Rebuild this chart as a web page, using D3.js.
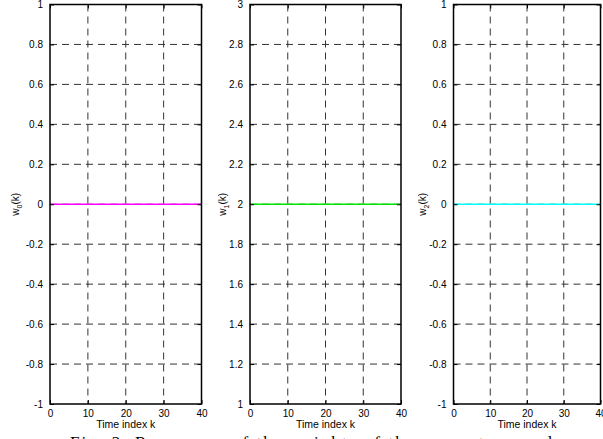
<!DOCTYPE html>
<html>
<head>
<meta charset="utf-8">
<script src="https://cdn.jsdelivr.net/npm/d3@7"></script>
<style>
	body { margin: 0; background: #fff; }
	svg { display: block; }
</style>
</head>
<body>
<script>
// time index k (0..40) and the weight responses
const timeIndex = [0, 1, 2, 3, 4, 5, 6, 7, 8, 9, 10, 11, 12, 13, 14, 15, 16, 17, 18, 19, 20,
	21, 22, 23, 24, 25, 26, 27, 28, 29, 30, 31, 32, 33, 34, 35, 36, 37, 38, 39, 40];
const w0 = [0, 0, 0, 0, 0, 0, 0, 0, 0, 0, 0, 0, 0, 0, 0, 0, 0, 0, 0, 0, 0,
	0, 0, 0, 0, 0, 0, 0, 0, 0, 0, 0, 0, 0, 0, 0, 0, 0, 0, 0, 0];
const w1 = [2, 2, 2, 2, 2, 2, 2, 2, 2, 2, 2, 2, 2, 2, 2, 2, 2, 2, 2, 2, 2,
	2, 2, 2, 2, 2, 2, 2, 2, 2, 2, 2, 2, 2, 2, 2, 2, 2, 2, 2, 2];
const w2 = [0, 0, 0, 0, 0, 0, 0, 0, 0, 0, 0, 0, 0, 0, 0, 0, 0, 0, 0, 0, 0,
	0, 0, 0, 0, 0, 0, 0, 0, 0, 0, 0, 0, 0, 0, 0, 0, 0, 0, 0, 0];

const xTicks = [0, 10, 20, 30, 40];
const yTicksA = [-1, -0.8, -0.6, -0.4, -0.2, 0, 0.2, 0.4, 0.6, 0.8, 1];
const yTicksB = [1, 1.2, 1.4, 1.6, 1.8, 2, 2.2, 2.4, 2.6, 2.8, 3];
const weightNames = ["0", "1", "2"];
const lineColors = ["#ff00ff", "#00e600", "#00ffff"];
const xLabel = "Time index k";
const caption = "Fig. 2.  Responses of the weights of the present example";

const width = 603, height = 439;
const plotTop = 4.5, plotBottom = 404;
const panels = [
	{ left: 50, right: 201.5, values: w0, yTicks: yTicksA, labelX: 15 },
	{ left: 250, right: 401, values: w1, yTicks: yTicksB, labelX: 222 },
	{ left: 453.5, right: 600.5, values: w2, yTicks: yTicksA, labelX: 422 }
];

const svg = d3.select("body")
	.append("svg")
	.attr("width", width)
	.attr("height", height)
	.style("font-family", "'Liberation Sans', Arial, sans-serif");

panels.forEach((p, i) => {
	const x = d3.scaleLinear().domain([0, 40]).range([p.left, p.right]);
	const y = d3.scaleLinear().domain(d3.extent(p.yTicks)).range([plotBottom, plotTop]);
	const g = svg.append("g");

	// dashed grid
	g.selectAll(".gx")
		.data(xTicks.slice(1, -1))
		.join("line")
		.attr("x1", d => x(d)).attr("x2", d => x(d))
		.attr("y1", plotTop).attr("y2", plotBottom)
		.attr("stroke", "#333").attr("stroke-width", 1)
		.attr("stroke-dasharray", "7,5");
	g.selectAll(".gy")
		.data(p.yTicks.slice(1, -1))
		.join("line")
		.attr("x1", p.left).attr("x2", p.right)
		.attr("y1", d => y(d)).attr("y2", d => y(d))
		.attr("stroke", "#333").attr("stroke-width", 1)
		.attr("stroke-dasharray", "7,5");

	// the weight line
	const line = d3.line()
		.x((d, j) => x(timeIndex[j]))
		.y(d => y(d));
	g.append("path")
		.datum(p.values)
		.attr("d", line)
		.attr("fill", "none")
		.attr("stroke", lineColors[i])
		.attr("stroke-width", 1.6);

	// axes, ticks pointing inward (MATLAB style)
	g.append("g").attr("transform", `translate(0,${plotBottom})`)
		.call(d3.axisBottom(x).tickValues(xTicks).tickSizeInner(-4).tickSizeOuter(0).tickPadding(6));
	g.append("g").attr("transform", `translate(0,${plotTop})`)
		.call(d3.axisTop(x).tickValues(xTicks).tickSizeInner(-4).tickSizeOuter(0).tickFormat(""));
	g.append("g").attr("transform", `translate(${p.left},0)`)
		.call(d3.axisLeft(y).tickValues(p.yTicks).tickSizeInner(-4).tickSizeOuter(0).tickPadding(7)
			.tickFormat(d => String(+d.toFixed(1))));
	g.append("g").attr("transform", `translate(${p.right},0)`)
		.call(d3.axisRight(y).tickValues(p.yTicks).tickSizeInner(-4).tickSizeOuter(0).tickFormat(""));

	g.selectAll(".domain").remove();
	g.selectAll(".tick line").attr("stroke", "#000").attr("stroke-width", 1);
	g.selectAll(".tick text").attr("fill", "#000").style("font-size", "10px");

	// box
	g.append("rect")
		.attr("x", p.left).attr("y", plotTop)
		.attr("width", p.right - p.left).attr("height", plotBottom - plotTop)
		.attr("fill", "none").attr("stroke", "#000").attr("stroke-width", 1.5);

	// x label
	g.append("text")
		.attr("x", (p.left + p.right) / 2)
		.attr("y", 428)
		.attr("text-anchor", "middle")
		.style("font-size", "10.5px")
		.text(xLabel);

	// y label w_i(k)
	const yl = g.append("text")
		.attr("transform", `translate(${p.labelX},${y(d3.mean(p.yTicks))}) rotate(-90)`)
		.attr("text-anchor", "middle")
		.attr("dy", "0.35em")
		.style("font-size", "10px");
	yl.append("tspan").text("w");
	yl.append("tspan").attr("dy", 3).style("font-size", "7px").text(weightNames[i]);
	yl.append("tspan").attr("dy", -3).text("(k)");
});

// figure caption, partly cut off at the bottom
svg.append("text")
	.attr("x", 70)
	.attr("y", 448)
	.attr("textLength", 492)
	.attr("lengthAdjust", "spacing")
	.style("font-family", "'Liberation Serif', 'Times New Roman', serif")
	.style("font-size", "17px")
	.text(caption);
</script>
</body>
</html>
